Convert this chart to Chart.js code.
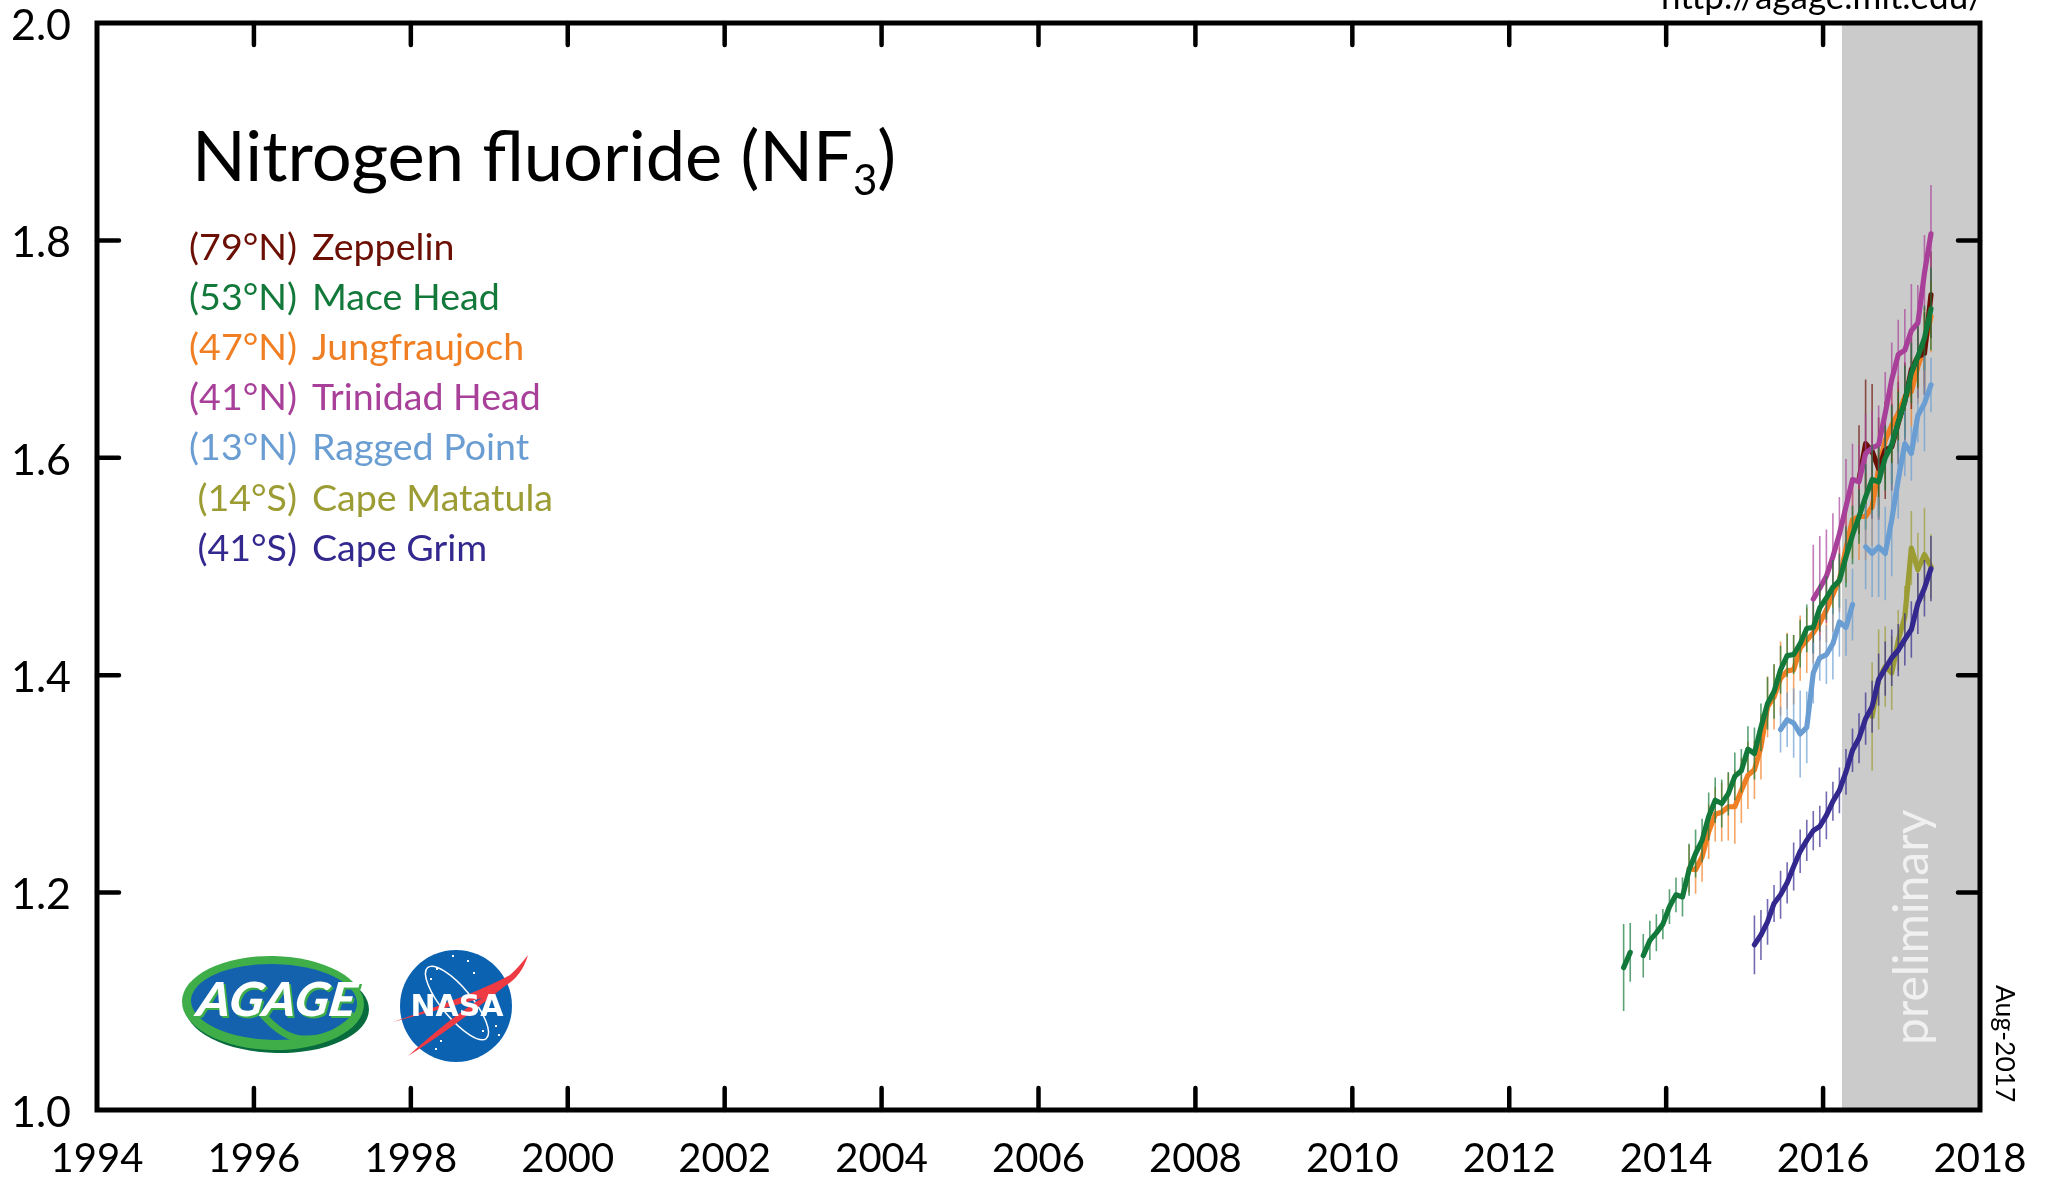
<!DOCTYPE html>
<html>
<head>
<meta charset="utf-8">
<title>Nitrogen fluoride</title>
<script src="https://cdn.jsdelivr.net/npm/chart.js@4"></script>
<style>
  html, body { margin: 0; padding: 0; background: #fff; }
  canvas { display: block; }
</style>
</head>
<body>
<canvas id="myChart" width="2046" height="1180"></canvas>
<script>
// monthly time axis, decimal years
var months = [
  2013.458, 2013.542, 2013.625, 2013.708, 2013.792, 2013.875, 2013.958,
  2014.042, 2014.125, 2014.208, 2014.292, 2014.375, 2014.458, 2014.542, 2014.625, 2014.708, 2014.792, 2014.875, 2014.958,
  2015.042, 2015.125, 2015.208, 2015.292, 2015.375, 2015.458, 2015.542, 2015.625, 2015.708, 2015.792, 2015.875, 2015.958,
  2016.042, 2016.125, 2016.208, 2016.292, 2016.375, 2016.458, 2016.542, 2016.625, 2016.708, 2016.792, 2016.875, 2016.958,
  2017.042, 2017.125, 2017.208, 2017.292, 2017.375
];

var xTicks = [1994, 1996, 1998, 2000, 2002, 2004, 2006, 2008, 2010, 2012, 2014, 2016, 2018];
var yTicks = [1.0, 1.2, 1.4, 1.6, 1.8, 2.0];
var prelimStart = 2016.24;

// stations: values and error half widths start at month index *From
var capeMatatulaFrom = 38;
var capeMatatula = [1.362, 1.396, 1.408, 1.402, 1.432, 1.454, 1.517, 1.497, 1.511, 1.500];
var capeMatatulaErr = [.050, .046, .037, .034, .028, .028, .034, .034, .043, .030];

var jungfraujochFrom = 10;
var jungfraujoch = [1.222, 1.221, 1.233, 1.256, 1.272, 1.274, 1.279, 1.279, 1.294, 1.308, 1.313, 1.334, 1.371, 1.380, 1.397, 1.404, 1.405, 1.425, 1.432, 1.439, 1.448, 1.460, 1.474, 1.488, 1.517, 1.543, 1.546, 1.546, 1.555, 1.590, 1.616, 1.630, 1.641, 1.656, 1.661, 1.684, 1.702, 1.730];
var jungfraujochErr = [.022, .022, .023, .025, .025, .027, .031, .034, .030, .031, .027, .030, .028, .030, .034, .035, .032, .030, .030, .028, .032, .030, .034, .030, .032, .036, .040, .040, .036, .034, .036, .034, .034, .030, .032, .034, .036, .033];

var zeppelinFrom = 36;
var zeppelin = [1.580, 1.613, 1.606, 1.590, 1.607, 1.610, 1.632, 1.652, 1.681, 1.693, 1.696, 1.750];
var zeppelinErr = [.050, .059, .062, .047, .045, .040, .038, .036, .036, .038, .038, .040];

var raggedPointFrom = 24;
var raggedPoint = [1.350, 1.359, 1.356, 1.346, 1.352, 1.402, 1.416, 1.419, 1.429, 1.449, 1.444, 1.465, null, 1.518, 1.512, 1.518, 1.512, 1.543, 1.580, 1.613, 1.604, 1.639, 1.650, 1.667];
var raggedPointErr = [.021, .025, .032, .040, .033, .028, .021, .027, .033, .032, .026, .033, null, .039, .040, .046, .043, .052, .036, .030, .025, .025, .044, .025];

var trinidadHeadFrom = 29;
var trinidadHead = [1.470, 1.480, 1.491, 1.509, 1.530, 1.555, 1.580, 1.578, 1.604, 1.609, 1.612, 1.641, 1.672, 1.695, 1.699, 1.717, 1.724, 1.770, 1.806];
var trinidadHeadErr = [.050, .048, .043, .040, .034, .044, .033, .034, .036, .034, .036, .038, .034, .032, .038, .043, .035, .035, .045];

var maceHeadFrom = 0;
var maceHead = [1.131, 1.145, null, 1.142, 1.156, 1.163, 1.171, 1.187, 1.198, 1.196, 1.221, 1.236, 1.248, 1.270, 1.285, 1.282, 1.291, 1.307, 1.312, 1.332, 1.328, 1.352, 1.374, 1.385, 1.405, 1.418, 1.419, 1.429, 1.443, 1.444, 1.462, 1.471, 1.481, 1.487, 1.509, 1.529, 1.546, 1.564, 1.580, 1.578, 1.600, 1.612, 1.633, 1.652, 1.678, 1.693, 1.710, 1.737];
var maceHeadErr = [.040, .027, null, .020, .018, .017, .014, .016, .016, .018, .024, .022, .020, .022, .021, .022, .020, .022, .020, .021, .024, .022, .024, .025, .022, .020, .018, .022, .022, .024, .022, .020, .025, .025, .028, .027, .025, .030, .032, .032, .030, .036, .028, .033, .028, .028, .030, .038];

var capeGrimFrom = 20;
var capeGrim = [1.152, 1.161, 1.173, 1.190, 1.198, 1.209, 1.224, 1.238, 1.248, 1.257, 1.261, 1.271, 1.284, 1.294, 1.311, 1.331, 1.342, 1.360, 1.371, 1.396, 1.406, 1.416, 1.423, 1.433, 1.442, 1.466, 1.480, 1.498];
var capeGrimErr = [.027, .023, .021, .017, .022, .019, .022, .020, .019, .018, .019, .022, .018, .021, .021, .020, .023, .024, .024, .024, .025, .026, .024, .024, .026, .028, .026, .030];

var cMaroon = "#6b0f04", cGreen = "#12793a", cOrange = "#f07e22", cMagenta = "#a8409a",
    cBlue = "#6a9dd2", cOlive = "#9c9c34", cIndigo = "#33288e";

var legendPlaces = ["(79°N)", "(53°N)", "(47°N)", "(41°N)", "(13°N)", "(14°S)", "(41°S)"];
var legendNames = ["Zeppelin", "Mace Head", "Jungfraujoch", "Trinidad Head", "Ragged Point", "Cape Matatula", "Cape Grim"];
var legendColors = [cMaroon, cGreen, cOrange, cMagenta, cBlue, cOlive, cIndigo];

function linePoints(vals, from) {
  return vals.map(function (v, i) { return { x: months[from + i], y: v }; });
}

// one vertical stroke per month, NaN breaks the line between them
function barPoints(vals, errs, from) {
  var pts = [];
  vals.forEach(function (v, i) {
    if (v === null) return;
    pts.push({ x: months[from + i], y: v - errs[i] });
    pts.push({ x: months[from + i], y: v + errs[i] });
    pts.push({ x: months[from + i], y: NaN });
  });
  return pts;
}

function addStation(list, name, vals, errs, from, color) {
  list.push({
    label: name + " error", data: barPoints(vals, errs, from), borderColor: color + "b0",
    borderWidth: 1.6, pointRadius: 0, spanGaps: false, tension: 0
  });
  list.push({
    label: name, data: linePoints(vals, from), borderColor: color,
    borderWidth: 5.2, pointRadius: 0, spanGaps: false, tension: 0,
    borderCapStyle: "round", borderJoinStyle: "round"
  });
}

var datasets = [];
addStation(datasets, "Jungfraujoch", jungfraujoch, jungfraujochErr, jungfraujochFrom, cOrange);
addStation(datasets, "Zeppelin", zeppelin, zeppelinErr, zeppelinFrom, cMaroon);
addStation(datasets, "Trinidad Head", trinidadHead, trinidadHeadErr, trinidadHeadFrom, cMagenta);
addStation(datasets, "Mace Head", maceHead, maceHeadErr, maceHeadFrom, cGreen);
addStation(datasets, "Ragged Point", raggedPoint, raggedPointErr, raggedPointFrom, cBlue);
addStation(datasets, "Cape Matatula", capeMatatula, capeMatatulaErr, capeMatatulaFrom, cOlive);
addStation(datasets, "Cape Grim", capeGrim, capeGrimErr, capeGrimFrom, cIndigo);
// chart.js paints the first dataset last
datasets.reverse();

var bodyFont = "Lato, Carlito, sans-serif";

// grey preliminary band behind the data
var bandPlugin = {
  id: "band",
  beforeDatasetsDraw: function (chart) {
    var ctx = chart.ctx, a = chart.chartArea, x0 = chart.scales.x.getPixelForValue(prelimStart);
    ctx.save();
    ctx.fillStyle = "#cbcbcb";
    ctx.fillRect(x0, a.top, a.right - x0, a.bottom - a.top);
    ctx.restore();
  }
};

function drawAgage(ctx) {
  ctx.save();
  ctx.fillStyle = "#076b3d";
  ctx.beginPath(); ctx.ellipse(277, 1008, 92, 45, 0.02, 0, Math.PI * 2); ctx.fill();
  ctx.fillStyle = "#3fae49";
  ctx.beginPath(); ctx.ellipse(273, 1003, 91, 47, 0.02, 0, Math.PI * 2); ctx.fill();
  ctx.fillStyle = "#1462ad";
  ctx.beginPath(); ctx.ellipse(274, 1002, 83, 38, 0.02, 0, Math.PI * 2); ctx.fill();
  // leaf vein
  ctx.strokeStyle = "#3fae49"; ctx.lineWidth = 7;
  ctx.beginPath(); ctx.moveTo(262, 1014); ctx.quadraticCurveTo(285, 1040, 305, 1039); ctx.quadraticCurveTo(330, 1040, 352, 1020); ctx.stroke();
  ctx.font = "900 47px " + bodyFont;
  ctx.textAlign = "center"; ctx.textBaseline = "alphabetic";
  [["#3fae49", 275, 1018], ["#fff", 273, 1016]].forEach(function (t) {
    ctx.save();
    ctx.fillStyle = t[0];
    ctx.transform(1, 0, -0.28, 1, t[1], t[2]);
    ctx.fillText("AGAGE", 0, 0);
    ctx.restore();
  });
  ctx.restore();
}

function drawNasa(ctx) {
  var stars = [[452, 955], [467, 960], [430, 978], [473, 972], [440, 1040], [503, 1040], [495, 1025], [435, 1048], [482, 1030], [436, 968], [498, 1034]];
  ctx.save();
  ctx.fillStyle = "#0b62b0";
  ctx.beginPath(); ctx.arc(456, 1006, 56, 0, Math.PI * 2); ctx.fill();
  ctx.fillStyle = "#fff";
  stars.forEach(function (s) { ctx.fillRect(s[0], s[1], 2, 2); });
  ctx.strokeStyle = "#fff"; ctx.lineWidth = 1.5;
  ctx.beginPath(); ctx.ellipse(457, 1003, 46, 15, 0.88, 0, Math.PI * 2); ctx.stroke();
  ctx.fillStyle = "#ee3a43";
  ctx.beginPath();
  ctx.moveTo(393, 1022);
  ctx.quadraticCurveTo(480, 992, 510, 975);
  ctx.quadraticCurveTo(518, 968, 528, 955);
  ctx.quadraticCurveTo(522, 976, 505, 986);
  ctx.quadraticCurveTo(450, 1030, 408, 1056);
  ctx.quadraticCurveTo(450, 1018, 482, 998);
  ctx.quadraticCurveTo(430, 1012, 393, 1022);
  ctx.fill();
  ctx.font = "bold 30px 'DejaVu Sans'";
  ctx.textAlign = "center"; ctx.textBaseline = "alphabetic";
  ctx.fillStyle = "#fff";
  ctx.fillText("NASA", 457, 1016);
  ctx.restore();
}

// frame, inward ticks and all the text that sits on the plot
var framePlugin = {
  id: "frame",
  afterDraw: function (chart) {
    var ctx = chart.ctx, a = chart.chartArea, sx = chart.scales.x, sy = chart.scales.y;
    var tick = 22;
    ctx.save();
    ctx.strokeStyle = "#000";
    ctx.lineCap = "round";
    ctx.lineWidth = 4.5;
    ctx.beginPath();
    xTicks.slice(1, -1).forEach(function (t) {
      var x = sx.getPixelForValue(t);
      ctx.moveTo(x, a.bottom); ctx.lineTo(x, a.bottom - tick);
      ctx.moveTo(x, a.top); ctx.lineTo(x, a.top + tick);
    });
    yTicks.slice(1, -1).forEach(function (t) {
      var y = sy.getPixelForValue(t);
      ctx.moveTo(a.left, y); ctx.lineTo(a.left + tick, y);
      ctx.moveTo(a.right, y); ctx.lineTo(a.right - tick, y);
    });
    ctx.stroke();
    ctx.lineCap = "butt";
    ctx.lineWidth = 5;
    ctx.strokeRect(a.left, a.top, a.right - a.left, a.bottom - a.top);

    ctx.textBaseline = "alphabetic";
    ctx.fillStyle = "#000";
    ctx.textAlign = "left";
    ctx.font = "70.5px " + bodyFont;
    ctx.fillText("Nitrogen fluoride (NF", 192, 181);
    var w = ctx.measureText("Nitrogen fluoride (NF").width;
    ctx.font = "42px " + bodyFont;
    ctx.fillText("3", 192 + w, 195);
    var w2 = ctx.measureText("3").width;
    ctx.font = "70.5px " + bodyFont;
    ctx.fillText(")", 192 + w + w2, 181);

    ctx.font = "37.6px " + bodyFont;
    legendNames.forEach(function (name, i) {
      var y = 260 + i * 50.1;
      ctx.fillStyle = legendColors[i];
      ctx.textAlign = "right";
      ctx.fillText(legendPlaces[i], 297, y);
      ctx.textAlign = "left";
      ctx.fillText(name, 312, y);
    });

    ctx.fillStyle = "#000";
    ctx.textAlign = "right";
    ctx.font = "35px " + bodyFont;
    ctx.fillText("http://agage.mit.edu/", 1984, 9);

    ctx.save();
    ctx.translate(1928, 1045);
    ctx.rotate(-Math.PI / 2);
    ctx.textAlign = "left";
    ctx.fillStyle = "#f0f0f0";
    ctx.font = "48px " + bodyFont;
    ctx.fillText("preliminary", 0, 0);
    ctx.restore();

    ctx.save();
    ctx.translate(1996, 985);
    ctx.rotate(Math.PI / 2);
    ctx.textAlign = "left";
    ctx.fillStyle = "#000";
    ctx.font = "26.5px " + bodyFont;
    ctx.fillText("Aug-2017", 0, 0);
    ctx.restore();

    drawAgage(ctx);
    drawNasa(ctx);
    ctx.restore();
  }
};

var ctx = document.getElementById("myChart").getContext("2d");
var myChart = new Chart(ctx, {
  type: "line",
  data: { datasets: datasets },
  plugins: [bandPlugin, framePlugin],
  options: {
    responsive: false,
    animation: false,
    layout: { padding: { top: 23, right: 66, left: 0, bottom: 0 } },
    plugins: { legend: { display: false }, tooltip: { enabled: false }, title: { display: false } },
    scales: {
      x: {
        type: "linear", min: 1994, max: 2018,
        afterFit: function (s) { s.height = 70; s.paddingLeft = 0; s.paddingRight = 0; },
        grid: { display: false },
        border: { display: false },
        afterBuildTicks: function (s) { s.ticks = xTicks.map(function (v) { return { value: v }; }); },
        ticks: {
          color: "#000", font: { family: "Lato", size: 40 }, maxRotation: 0, autoSkip: false, padding: 17,
          callback: function (v) { return String(v); }
        }
      },
      y: {
        min: 1, max: 2,
        afterFit: function (s) { s.width = 97; s.paddingTop = 0; s.paddingBottom = 0; },
        grid: { display: false },
        border: { display: false },
        afterBuildTicks: function (s) { s.ticks = yTicks.map(function (v) { return { value: v }; }); },
        ticks: {
          color: "#000", font: { family: "Lato", size: 43 }, padding: 18, labelOffset: 3,
          callback: function (v) { return v.toFixed(1); }
        }
      }
    }
  }
});
</script>
</body>
</html>
